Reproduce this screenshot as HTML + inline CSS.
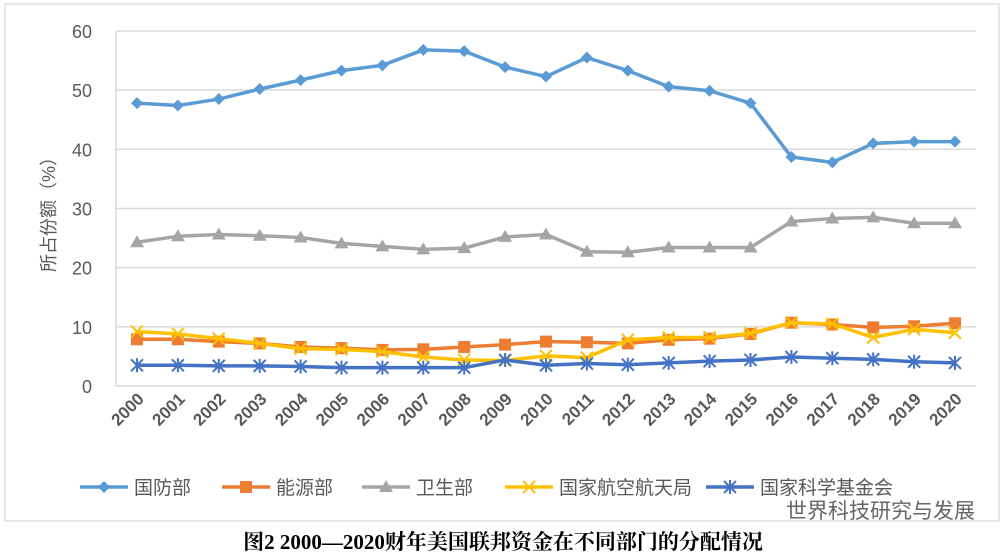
<!DOCTYPE html>
<html><head><meta charset="utf-8"><style>
body{margin:0;background:#fff;font-family:"Liberation Sans","Noto Sans CJK SC",sans-serif}
svg{display:block}
</style></head><body>
<svg id="c" width="1006" height="554">
<rect x="5" y="4" width="994" height="517" fill="#fff" stroke="#d0d0d0"/>
<g id="grid"></g><g id="series"></g><g id="ticks"></g>
<text transform="translate(55,210) rotate(-90)" text-anchor="middle" font-size="18" fill="#595959" font-family="Liberation Sans,Noto Sans CJK SC,sans-serif">所占份额（%）</text>
<g id="legend"></g>
<text x="975" y="518" text-anchor="end" font-size="21" fill="#666" font-family="Liberation Sans,Noto Sans CJK SC,sans-serif">世界科技研究与发展</text>
<text x="503" y="549" text-anchor="middle" font-size="21" font-weight="bold" fill="#000" font-family="Liberation Serif,Noto Serif CJK SC,serif">图2 2000—2020财年美国联邦资金在不同部门的分配情况</text>
</svg>
<script>
const years=["2000","2001","2002","2003","2004","2005","2006","2007","2008","2009","2010","2011","2012","2013","2014","2015","2016","2017","2018","2019","2020"];
const yTicks=[0,10,20,30,40,50,60];
const defense=[47.8,47.4,48.5,50.2,51.7,53.3,54.2,56.8,56.6,53.9,52.3,55.5,53.3,50.6,49.9,47.8,38.7,37.8,41.0,41.3,41.3];
const energy=[7.9,7.9,7.5,7.2,6.6,6.4,6.1,6.2,6.6,7.0,7.5,7.4,7.2,7.8,8.0,8.8,10.7,10.4,9.9,10.1,10.6];
const health=[24.3,25.3,25.6,25.4,25.1,24.1,23.6,23.1,23.3,25.2,25.6,22.7,22.6,23.4,23.4,23.4,27.8,28.3,28.5,27.5,27.5];
const nasa=[9.2,8.8,8.0,7.2,6.3,6.2,5.8,4.9,4.4,4.3,5.1,4.8,7.8,8.2,8.2,8.9,10.7,10.5,8.2,9.6,9.0];
const nsf=[3.5,3.5,3.4,3.4,3.3,3.1,3.1,3.1,3.1,4.4,3.5,3.8,3.6,3.9,4.2,4.4,4.9,4.7,4.5,4.1,3.9];
const names=["国防部","能源部","卫生部","国家航空航天局","国家科学基金会"];
const NS="http://www.w3.org/2000/svg";
const X=i=>137+i*(955-137)/(years.length-1);
const Y=v=>386-v*(386-31)/60;
function mk(t,a,p){const e=document.createElementNS(NS,t);for(const k in a)e.setAttribute(k,a[k]);p.appendChild(e);return e;}
const grid=document.getElementById('grid'),ticks=document.getElementById('ticks'),ser=document.getElementById('series'),leg=document.getElementById('legend');
yTicks.forEach(v=>{
 const l=mk('line',{x1:116,x2:976,y1:Y(v),y2:Y(v),stroke:'#d9d9d9','stroke-width':1.5},grid);
 
 
 const t=mk('text',{x:92,y:Y(v)+7,'text-anchor':'end','font-size':18,fill:'#595959'},ticks);t.textContent=v;
 
 
});
const ax=mk('line',{x1:116,x2:116,y1:31,y2:386,stroke:'#d9d9d9','stroke-width':1.5},grid);


years.forEach((y,i)=>{
 const t=mk('text',{x:0,y:0,'text-anchor':'end','font-size':17,'font-weight':'bold',fill:'#595959',transform:`translate(${X(i)+8},${400}) rotate(-45)`},ticks);t.textContent=y;
 
 
});
function marker(kind,x,y,c,g){
 if(kind==='diamond')mk('polygon',{points:`${x},${y-6} ${x+6},${y} ${x},${y+6} ${x-6},${y}`,fill:c},g);
 else if(kind==='square')mk('rect',{x:x-6,y:y-6,width:12,height:12,fill:c},g);
 else if(kind==='tri')mk('polygon',{points:`${x},${y-7} ${x+7},${y+5} ${x-7},${y+5}`,fill:c},g);
 else if(kind==='x'){mk('path',{d:`M${x-6} ${y-6}L${x+6} ${y+6}M${x+6} ${y-6}L${x-6} ${y+6}`,stroke:c,'stroke-width':2},g);}
 else {mk('path',{d:`M${x-6} ${y-6}L${x+6} ${y+6}M${x+6} ${y-6}L${x-6} ${y+6}M${x} ${y-7}L${x} ${y+7}`,stroke:c,'stroke-width':2},g);}
}
const S=[[defense,'#5b9bd5','diamond','defense'],[energy,'#ed7d31','square','energy'],[health,'#a5a5a5','tri','health'],[nasa,'#ffc000','x','nasa'],[nsf,'#4472c4','star','nsf']];
S.forEach(([d,c,k,n],si)=>{
 const g=mk('g',{},ser);
 
 
 mk('polyline',{points:d.map((v,i)=>X(i)+','+Y(v)).join(' '),fill:'none',stroke:c,'stroke-width':3.5,'stroke-linejoin':'round'},g);
 d.forEach((v,i)=>marker(k,X(i),Y(v),c,g));
 const lx=[80,222,362,505,706][si];
 const lg=mk('g',{},leg);
 
 
 mk('line',{x1:lx,x2:lx+48,y1:487,y2:487,stroke:c,'stroke-width':3.5},lg);
 marker(k,lx+24,487,c,lg);
 const t=mk('text',{x:lx+54,y:494,'font-size':19,fill:'#595959'},lg);t.textContent=names[si];
});
</script>
</body></html>
